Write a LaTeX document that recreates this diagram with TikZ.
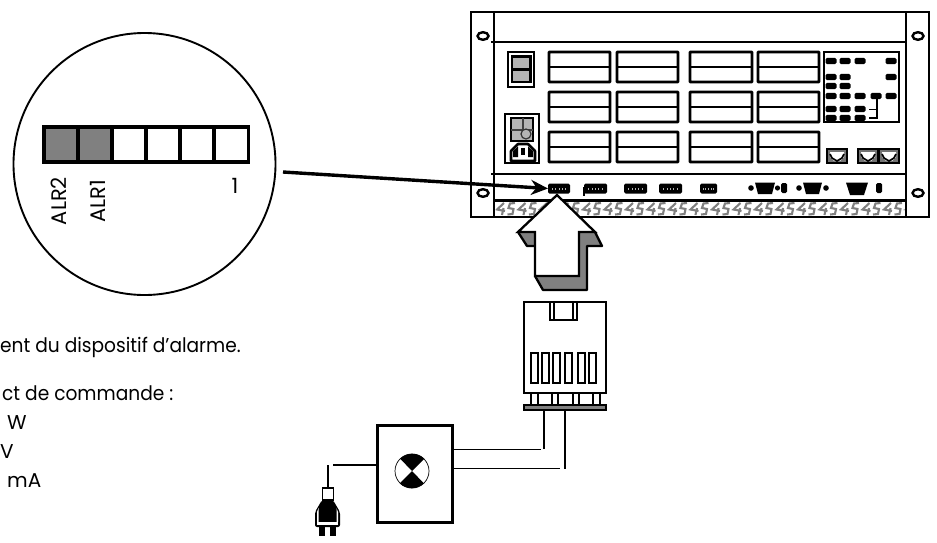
\documentclass[tikz,border=0pt]{standalone}
\usepackage{fontspec}
\setmainfont{Poppins}
\usetikzlibrary{arrows.meta}
\definecolor{midgray}{HTML}{808080}
\definecolor{lightgray2}{HTML}{B4B4B4}
\tikzset{
  x=1pt,y=-1pt,
  rackline/.style={line width=2.6pt,draw=black},
  cardbox/.style={line width=2.6pt,draw=black,fill=white,rounded corners=0.5pt},
  hole/.style={draw=black,line width=2.4pt,fill=white},
  blob/.style={fill=black,rounded corners=1.5pt},
  ledcell/.style={draw=black,line width=3.2pt,fill=white,minimum width=34pt,minimum height=35pt,inner sep=0pt,outer sep=0pt,anchor=north west},
  txt/.style={font=\fontsize{20}{24}\selectfont,inner sep=0pt,anchor=base west},
  bigtxt/.style={font=\fontsize{21}{24}\selectfont,inner sep=0pt,anchor=center},
  thinwire/.style={line width=1pt,draw=black},
  thickwire/.style={line width=1.8pt,draw=black},
  portblock/.style={fill=black,rounded corners=1.5pt,minimum height=10pt,inner sep=0pt,outer sep=0pt},
  graymark/.style={draw=midgray,line width=2.1pt},
}
\begin{document}
\begin{tikzpicture}
\useasboundingbox (0,0) rectangle (937,542);
% magnifier
\node[draw=black,line width=1.9pt,circle,minimum size=262pt,inner sep=0pt] (zoomc) at (144.5,164) {};
\foreach \i/\x/\f in {1/44/midgray,2/78/midgray,3/112/white,4/146/white,5/180/white,6/214.5/white}
  \node[ledcell,fill=\f] (led\i) at (\x,127) {};
\node[bigtxt,rotate=90] (alr2) at (59,201) {ALR2};
\node[bigtxt,rotate=90] (alr1) at (98,201) {ALR1};
\node[bigtxt] (one) at (235,186) {1};
\node[txt,xscale=0.93,transform shape] (t1) at (0,352) {ent du dispositif d’alarme.};
\node[txt,xscale=0.93,transform shape] (t2) at (2,400) {ct de commande :};
\node[txt] (t3) at (7,429) {W};
\node[txt] (t4) at (0,458) {V};
\node[txt] (t5) at (7,487) {mA};
% rack
\begin{scope}
\draw[rackline,fill=white] (471,12) rectangle (929,217);
\draw[rackline] (494,12) -- (494,217) (906,12) -- (906,217);
\draw[rackline] (491,42) -- (906,42) (491,174) -- (906,174) (494,200.5) -- (906,200.5);
\foreach \p in {(483,36),(483,193),(918,36),(918,193)}
  \draw[hole] \p ellipse [x radius=5.5pt,y radius=3.8pt];
% gray pattern
\begin{scope}
\clip (495.5,202) rectangle (904.5,216);
\foreach \k in {0,...,19} {
  \begin{scope}[shift={(495+21.5*\k,0)}]
   \draw[graymark] (9,203) -- (2,209.5) -- (10,211) (8.5,208) -- (7,215);
   \draw[graymark] (20,203) -- (15,203.5) -- (13.5,208) -- (18.5,209) -- (17.5,214) -- (12.5,214.5);
  \end{scope}
}
\end{scope}
% cards
\foreach \xa/\xb in {549/610,617/678,690/752,758/819}
  \foreach \ya/\ym/\yb in {52/67/82,92/107/122,132/147/162} {
    \draw[cardbox] (\xa,\ya) rectangle (\xb,\yb);
    \draw[rackline] (\xa,\ym) -- (\xb,\ym);
  }
% display
\draw[rackline] (508,52) rectangle (534,87);
\draw[rackline,fill=lightgray2] (512,56.5) rectangle (530.5,82);
\draw[rackline] (512,69.5) -- (530.5,69.5);
% power module
\draw[rackline] (505,114) rectangle (539,163);
\draw[rackline,fill=lightgray2] (511,118) rectangle (533,141);
\draw[line width=1.6pt,black!75] (523,118) -- (523,135) (511,130) -- (533,130);
\draw[line width=1.2pt,black!80,fill=lightgray2] (526,134) circle [radius=5pt];
\draw[line width=1.4pt,black!75] (523,118) -- (523,129);
\draw[rackline,fill=white,line join=round] (511,161) -- (511,151) -- (518,144) -- (528,144) -- (535,151) -- (535,161) -- cycle;
\fill (513,151) -- (518,146.5) -- (518,157) -- (513,157) -- cycle;
\fill (533,151) -- (528,146.5) -- (528,157) -- (533,157) -- cycle;
\fill (521,148) rectangle (525,155);
% status panel
\draw[rackline] (824,52) rectangle (899,122);
\foreach \x/\y in {831/61,845/61,860/61,891/61,831/77,845/77,891/77,831/86,845/86,831/96,845/96,860/96,876/96,891/96,831/109,845/109,860/109,831/118,845/118,860/118}
  \fill[blob] (\x-5.5,\y-3.2) rectangle (\x+5.5,\y+3.2);
\draw[line width=1.9pt] (877,96) -- (877,118) -- (869,118) (877,109.5) -- (869,109.5);
% RJ sockets
\foreach \xa in {827,858,879} {
  \draw[rackline,fill=black!55] (\xa,149) rectangle (\xa+20,163);
  \fill[white] (\xa+3,152) -- (\xa+17,152) -- (\xa+17,157) -- (\xa+13,161) -- (\xa+7,161) -- (\xa+3,157) -- cycle;
  \draw[line width=1.7pt] (\xa+3,154) -- (\xa+5,158) -- (\xa+10,161) -- (\xa+15,158) -- (\xa+17,154);
}
% ports
\node[portblock,minimum width=22pt,anchor=west] (port1) at (548,188.5) {};
\node[portblock,minimum width=23pt,anchor=west] (port2) at (584,188.5) {};
\node[portblock,minimum width=23pt,anchor=west] (port3) at (624,188.5) {};
\node[portblock,minimum width=23pt,anchor=west] (port4) at (659,188.5) {};
\node[portblock,minimum width=17pt,anchor=west] (port5) at (700,188.5) {};
\foreach \xa/\xb in {548/570,584/607,624/647,659/682,700/717}
  \foreach \f in {0.2,0.35,0.5,0.65,0.8}
    \fill[white!70!black] ({\xa+(\xb-\xa)*\f-0.5},187.5) rectangle ({\xa+(\xb-\xa)*\f+0.5},190);
\draw[line width=1.2pt] (584,187) -- (584,196);
\fill (751,188) circle [radius=2.8pt] (777.5,188) circle [radius=2.6pt] (799,188) circle [radius=2.8pt] (826,188) circle [radius=2.8pt];
\fill[blob] (781,183) rectangle (787,193);
\fill[blob] (876,183) rectangle (882,193);
\fill (755,182.5) -- (775,182.5) -- (772,194) -- (758,194) -- cycle;
\fill (803,182.5) -- (822,182.5) -- (819,194) -- (806,194) -- cycle;
\fill (846,182.5) -- (868,182.5) -- (864,195) -- (850,195) -- cycle;
\end{scope}
% pointer arrow
\coordinate (ptrstart) at (283,172);
\draw[line width=3.4pt,-{Stealth[length=17pt,width=15pt]}] (ptrstart) -- (port1.west);
% big arrow
\fill[midgray] (518,232) -- (527,246) -- (535,246) -- (535,276) -- (543,290) -- (587,290) -- (587,246) -- (602,246) -- (595,232) -- cycle;
\draw[line width=2.3pt,line join=round] (518,232) -- (527,246) -- (535,246) (535,276) -- (543,290) -- (587,290) -- (587,246) -- (602,246) -- (595,232);
\draw[line width=2.3pt,fill=white,line join=miter] (557,195) -- (518,232) -- (535,232) -- (535,276) -- (579,276) -- (579,232) -- (595,232) -- cycle;
% alarm module
\node[draw=black,line width=2pt,fill=white,minimum width=82pt,minimum height=91pt,inner sep=0pt,anchor=north west] (module) at (523,301) {};
\draw[line width=2pt] (550,301) -- (550,320) -- (577,320) -- (577,301) (554,301) -- (554,320) (573,301) -- (573,320);
\foreach \xa/\xb in {531/538,542/549,553/560,565/572,578/585,589/596}
  \draw[line width=2.1pt] (\xa,353) rectangle (\xb,383);
\foreach \xa/\xb in {531/538,552/558,573/579,593/600}
  \draw[line width=2pt] (\xa,392) -- (\xa,405) (\xb,392) -- (\xb,405);
\node[draw=black,line width=1.6pt,fill=midgray,minimum width=82pt,minimum height=5pt,inner sep=0pt,anchor=north west] (base) at (523,404) {};
% lamp box
\node[draw=black,line width=3pt,fill=white,minimum width=75pt,minimum height=97pt,inner sep=0pt,anchor=north west] (lamp) at (376,424) {};
\node[draw=black,line width=0.7pt,circle,minimum size=34pt,inner sep=0pt] (bulb) at (412,471) {};
\fill (bulb.center) -- (bulb.45) arc[start angle=45,end angle=135,radius=17pt] -- cycle;
\fill (bulb.center) -- (bulb.225) arc[start angle=225,end angle=315,radius=17pt] -- cycle;
% wires
\coordinate (w1) at (544,449);
\coordinate (w2) at (565,469);
\coordinate (w1e) at (541,449);
\coordinate (w2e) at (560,468);
\draw[thickwire] (base.south -| w1) -- (w1);
\draw[thickwire] (base.south -| w2) -- (w2);
\draw[thinwire] (lamp.east |- w1e) -- (w1e);
\draw[thinwire] (lamp.east |- w2e) -- (w2e);
% plug
\coordinate (pl1) at (333,465);
\coordinate (pl2) at (328,465);
\draw[thickwire] (lamp.west |- pl1) -- (pl1);
\node[draw=black,line width=1.8pt,fill=white,minimum width=11pt,minimum height=12pt,inner sep=0pt] (plug) at (328,494) {};
\draw[thickwire] (pl2) -- (plug.north);
\fill[rounded corners=2pt] (322,500) -- (315,512) -- (315,527) -- (340,527) -- (340,512) -- (333,500) -- cycle;
\fill[white] (317,522) rectangle (338,524.5);
\fill[white] (317,512) -- (318.5,508) -- (318.5,522) -- (317,522) -- cycle;
\fill[white] (338,512) -- (336.5,508) -- (336.5,522) -- (338,522) -- cycle;
\fill (319,527) rectangle (325,536);
\fill (330,527) rectangle (336,536);
\end{tikzpicture}
\end{document}
